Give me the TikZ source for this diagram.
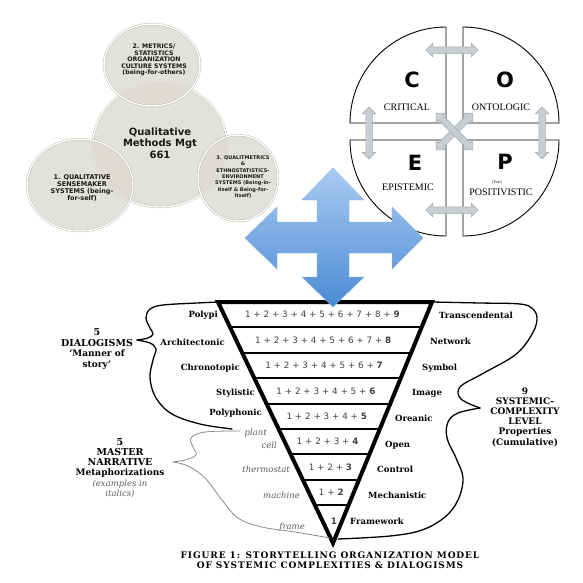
\documentclass[tikz,border=0pt]{standalone}
\usepackage{fontspec}
\setmainfont{DejaVu Serif}
\newfontfamily\bsans{DejaVu Sans}
\newfontfamily\tserif{Liberation Serif}
\newfontfamily\capfont{DejaVu Serif}[LetterSpace=10]
\usetikzlibrary{shapes.arrows,shapes.geometric,calc}
\definecolor{bubfill}{HTML}{DCDAD2}
\definecolor{bubedge}{HTML}{B3B0A7}
\definecolor{garrowfill}{HTML}{C9CED4}
\definecolor{garrowdraw}{HTML}{A3A8AE}
\definecolor{bluetop}{HTML}{AACBF1}
\definecolor{bluebot}{HTML}{4B8BD5}
\definecolor{blueedge}{HTML}{8DB4E4}
\definecolor{txtgray}{HTML}{5A5A5A}
\definecolor{curvegray}{HTML}{8A8A8A}
\begin{document}
\begin{tikzpicture}[x=1pt,y=-1pt,
  bubble/.style={ellipse, draw=bubedge, line width=0.4pt, double=white, double distance=1.4pt, fill=bubfill, fill opacity=0.8, text opacity=1, inner sep=0},
  btext/.style={align=center, text=black!90, inner sep=0},
  quad/.style={draw=black, line width=0.9pt, fill=white},
  copeletter/.style={font=\bsans\bfseries\fontsize{21}{21}\selectfont, inner sep=0},
  copeword/.style={font=\tserif\fontsize{10}{12}\selectfont, inner sep=0},
  garrow/.style={double arrow, fill=garrowfill, draw=garrowdraw, line width=0.5pt, double arrow head extend=3.5pt, inner xsep=0pt, inner ysep=2pt, text height=2pt, text depth=0pt},
  funnel/.style={line width=4pt, line join=miter},
  rowline/.style={line width=2pt},
  rownum/.style={font=\bsans\fontsize{8.8}{10}\selectfont, text=black!75, inner sep=0},
  lblL/.style={font=\bfseries\fontsize{8.5}{10}\selectfont, anchor=east, inner sep=1pt},
  lblR/.style={font=\bfseries\fontsize{8.5}{10}\selectfont, anchor=west, inner sep=1pt},
  lblI/.style={font=\itshape\fontsize{8.5}{10}\selectfont, text=txtgray, anchor=east, inner sep=1pt},
  block/.style={font=\bfseries, align=center, inner sep=0},
  bcurve/.style={line width=1.3pt, line cap=round},
  gcurve/.style={line width=0.8pt, draw=curvegray, line cap=round},
]
\useasboundingbox (0,0) rectangle (583,582);

% ---------- bubbles ----------
\node[bubble, minimum width=134, minimum height=124] (bc) at (160,145) {};
\node[bubble, minimum width=96, minimum height=82] (b2) at (152,65) {};
\node[bubble, minimum width=106, minimum height=92] (b1) at (80,185) {};
\node[bubble, minimum width=80, minimum height=86] (b3) at (238,178) {};

\node[btext, font=\bsans\bfseries\fontsize{10}{11.5}\selectfont] (tc) at (160,143) {Qualitative\\Methods Mgt\\661};
\node[btext, font=\bsans\bfseries\fontsize{6.2}{6.6}\selectfont] (t2) at (154,60) {2. METRICS/\\STATISTICS\\ORGANIZATION\\CULTURE SYSTEMS\\(being-for-others)};
\node[btext, font=\bsans\bfseries\fontsize{6.5}{7.2}\selectfont] (t1) at (82,188) {1. QUALITATIVE\\SENSEMAKER\\SYSTEMS (being-\\for-self)};
\node[btext, font=\bsans\bfseries\fontsize{5}{6.3}\selectfont] (t3) at (243,177) {3. QUALITMETRICS\\\&\\ETHNOSTATISTICS-\\ENVIRONMENT\\SYSTEMS (Being-in-\\itself \& Being-for-\\itself)};

% ---------- COPE circle ----------
\draw[quad] (446,123) -- (350,123) arc[start angle=180, end angle=270, radius=96] -- cycle;
\draw[quad] (463,123) -- (463,27) arc[start angle=270, end angle=360, radius=96] -- cycle;
\draw[quad] (446,140) -- (350,140) arc[start angle=180, end angle=90, radius=96] -- cycle;
\draw[quad] (463,140) -- (559,140) arc[start angle=0, end angle=90, radius=96] -- cycle;

\node[copeletter] (lc) at (412,80) {C};
\node[copeletter] (lo) at (505,80) {O};
\node[copeletter] (le) at (415,163) {E};
\node[copeletter] (lp) at (505,162) {P};
\node[copeword] (wc) at (407,107) {CRITICAL};
\node[copeword] (wo) at (501,107) {ONTOLOGIC};
\node[copeword] (we) at (408,187) {EPISTEMIC};
\node[font=\tserif\fontsize{4}{4}\selectfont, inner sep=0] (wpost) at (497,182) {[Post]};
\node[copeword] (wp) at (501,192) {POSITIVISTIC};

\node[garrow, minimum height=52pt] (ga1) at (452,50) {};
\node[garrow, minimum height=52pt] (ga2) at (452,210) {};
\node[garrow, minimum height=52pt, rotate=90] (ga3) at (369,133) {};
\node[garrow, minimum height=52pt, rotate=90] (ga4) at (542,133) {};
\node[garrow, minimum height=52pt, rotate=45] (ga5) at (454.5,131.5) {};
\node[garrow, minimum height=52pt, rotate=-45] (ga6) at (454.5,131.5) {};

% ---------- funnel ----------
\coordinate (fa) at (218,302);
\coordinate (fb) at (432,302);
\coordinate (fc) at (333,543);
\coordinate (fm) at (325,302);
\foreach \t in {0.10529,0.21058,0.31587,0.42116,0.52645,0.63174,0.73703,0.84232}{
  \draw[rowline] ($(fa)!\t!(fc)$) -- ($(fb)!\t!(fc)$);
}
\draw[funnel] (fa) -- (fb) -- (fc) -- cycle;

\node[rownum, xshift=-3pt] (r9) at ($(fm)!0.05265!(fc)$) {1 + 2 + 3 + 4 + 5 + 6 + 7 + 8 + \textbf{9}};
\node[rownum, xshift=-3pt] (r8) at ($(fm)!0.15794!(fc)$) {1 + 2 + 3 + 4 + 5 + 6 + 7 + \textbf{8}};
\node[rownum, xshift=-3pt] (r7) at ($(fm)!0.26323!(fc)$) {1 + 2 + 3 + 4 + 5 + 6 + \textbf{7}};
\node[rownum, xshift=-2pt] (r6) at ($(fm)!0.36852!(fc)$) {1 + 2 + 3 + 4 + 5 + \textbf{6}};
\node[rownum, xshift=-2pt] (r5) at ($(fm)!0.47381!(fc)$) {1 + 2 + 3 + 4 + \textbf{5}};
\node[rownum, xshift=-2pt] (r4) at ($(fm)!0.5791!(fc)$) {1 + 2 + 3 + \textbf{4}};
\node[rownum] (r3) at ($(fm)!0.68439!(fc)$) {1 + 2 + \textbf{3}};
\node[rownum] (r2) at ($(fm)!0.78968!(fc)$) {1 + \textbf{2}};
\node[rownum] (r1) at (334,521) {\textbf{1}};

% left labels
\node[lblL] (lpolypi) at (219,315) {Polypi};
\node[lblL] (larch) at (226,342) {Architectonic};
\node[lblL] (lchron) at (241,368) {Chronotopic};
\node[lblL] (lstyl) at (256,393) {Stylistic};
\node[lblL] (lpoly) at (263,413) {Polyphonic};
\node[lblI] (lplant) at (268,433) {plant};
\node[lblI] (lcell) at (278,445) {cell};
\node[lblI] (ltherm) at (291,469) {thermostat};
\node[lblI] (lmach) at (301,495) {machine};
\node[lblI] (lframe) at (306,527) {frame};

% right labels
\node[lblR] (rtrans) at (438,315) {Transcendental};
\node[lblR] (rnet) at (429,341) {Network};
\node[lblR] (rsym) at (421,368) {Symbol};
\node[lblR] (rimg) at (411,393) {Image};
\node[lblR] (rorg) at (394,418) {Oreanic};
\node[lblR] (ropen) at (384,445) {Open};
\node[lblR] (rctrl) at (376,469) {Control};
\node[lblR] (rmech) at (367,495) {Mechanistic};
\node[lblR] (rframe) at (349,521) {Framework};

% curly braces
\draw[bcurve] plot[smooth, tension=0.6] coordinates {(218,302) (197,303) (163,305) (150,309) (146,318) (150,328) (153,334) (148,338) (137,340)};
\draw[bcurve] plot[smooth, tension=0.6] coordinates {(137,340) (150,343) (156,349) (153,360) (150,378) (156,398) (172,414) (200,424) (232,429)};
\draw[gcurve] plot[smooth, tension=0.6] coordinates {(240,431) (205,432) (191,438) (193,447) (196,455) (185,460) (173,462)};
\draw[gcurve] plot[smooth, tension=0.6] coordinates {(173,462) (188,466) (205,478) (222,500) (238,518) (262,527) (295,532) (330,538)};
\draw[bcurve] plot[smooth, tension=0.6] coordinates {(432,302) (480,303) (520,304) (533,309) (537,320) (531,336) (515,355) (482,374) (460,387) (461,399) (480,408)};
\draw[bcurve] plot[smooth, tension=0.6] coordinates {(480,408) (458,413) (448,422) (447,438) (456,458) (463,478) (458,500) (445,517) (422,530) (390,536) (338,539)};

% text blocks
\node[block, font=\bfseries\fontsize{9.5}{10.5}\selectfont] (dial) at (97,349) {5\\DIALOGISMS\\{\fontsize{9}{10.5}\selectfont ‘Manner of}\\{\fontsize{9}{10.5}\selectfont story’}};
\node[block, font=\bfseries\fontsize{9.5}{10.2}\selectfont] (mast) at (120,468) {5\\MASTER\\NARRATIVE\\{\fontsize{9}{10.2}\selectfont Metaphorizations}\\{\mdseries\itshape\color{txtgray}\fontsize{8.5}{10.2}\selectfont (examples in}\\{\mdseries\itshape\color{txtgray}\fontsize{8.5}{10.2}\selectfont italics)}};
\node[block, font=\bfseries\fontsize{9}{10.2}\selectfont] (syst) at (525,417) {9\\SYSTEMIC-\\COMPLEXITY\\LEVEL\\Properties\\(Cumulative)};

% caption
\node[font=\capfont\bfseries\fontsize{9}{10}\selectfont, align=center, inner sep=0] (cap) at (330,560) {FIGURE 1: STORYTELLING ORGANIZATION MODEL\\OF SYSTEMIC COMPLEXITIES \& DIALOGISMS};

% ---------- blue four-way arrow ----------
\shadedraw[top color=bluetop, bottom color=bluebot, draw=blueedge, line width=0.4pt, line join=miter]
 (333,168) -- (364,200) -- (349,200) -- (349,222) -- (392,222) -- (392,207) -- (423,238)
 -- (392,269) -- (392,253) -- (349,253) -- (349,277) -- (364,277) -- (333,307)
 -- (302,277) -- (317,277) -- (317,253) -- (277,253) -- (277,269) -- (245,238)
 -- (277,207) -- (277,222) -- (317,222) -- (317,200) -- (302,200) -- cycle;
\end{tikzpicture}
\end{document}
